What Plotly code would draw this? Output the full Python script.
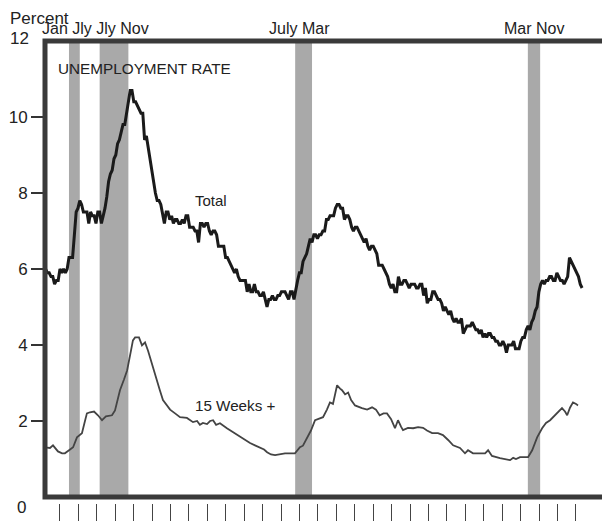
import plotly.graph_objects as go

# ---------------- data ----------------
# Civilian unemployment rate (percent), monthly, starting Dec 1978
total_start_year = 1978 + 11 / 12
total_rate = [
    6.0,
    5.9, 5.9, 5.8, 5.8, 5.6, 5.7, 5.7, 6.0, 5.9, 6.0, 5.9, 6.0,          # 1979
    6.3, 6.3, 6.3, 6.9, 7.5, 7.6, 7.8, 7.7, 7.5, 7.5, 7.5, 7.2,          # 1980
    7.5, 7.4, 7.4, 7.2, 7.5, 7.5, 7.2, 7.4, 7.6, 7.9, 8.3, 8.5,          # 1981
    8.6, 8.9, 9.0, 9.3, 9.4, 9.6, 9.8, 9.8, 10.1, 10.4, 10.7, 10.7,      # 1982
    10.4, 10.4, 10.3, 10.2, 10.1, 10.1, 9.4, 9.5, 9.2, 8.8, 8.5, 8.3,    # 1983
    8.0, 7.8, 7.8, 7.7, 7.4, 7.2, 7.5, 7.5, 7.3, 7.4, 7.2, 7.3,          # 1984
    7.3, 7.2, 7.2, 7.3, 7.2, 7.4, 7.4, 7.1, 7.1, 7.1, 7.0, 7.0,          # 1985
    6.7, 7.2, 7.2, 7.1, 7.2, 7.2, 7.0, 6.9, 7.0, 7.0, 6.9, 6.6,          # 1986
    6.6, 6.6, 6.6, 6.3, 6.3, 6.2, 6.1, 6.0, 5.9, 6.0, 5.8, 5.7,          # 1987
    5.7, 5.7, 5.7, 5.4, 5.6, 5.4, 5.4, 5.6, 5.4, 5.4, 5.3, 5.3,          # 1988
    5.4, 5.2, 5.0, 5.2, 5.2, 5.3, 5.2, 5.2, 5.3, 5.3, 5.4, 5.4,          # 1989
    5.4, 5.3, 5.2, 5.4, 5.4, 5.2, 5.5, 5.7, 5.9, 5.9, 6.2, 6.3,          # 1990
    6.4, 6.6, 6.8, 6.7, 6.9, 6.9, 6.8, 6.9, 6.9, 7.0, 7.0, 7.3,          # 1991
    7.3, 7.4, 7.4, 7.4, 7.6, 7.7, 7.7, 7.6, 7.6, 7.3, 7.4, 7.4,          # 1992
    7.3, 7.1, 7.0, 7.1, 7.1, 7.0, 6.9, 6.8, 6.7, 6.8, 6.6, 6.5,          # 1993
    6.6, 6.6, 6.5, 6.4, 6.1, 6.1, 6.1, 6.0, 5.9, 5.8, 5.6, 5.5,          # 1994
    5.6, 5.4, 5.4, 5.8, 5.6, 5.6, 5.7, 5.7, 5.6, 5.5, 5.6, 5.6,          # 1995
    5.6, 5.5, 5.5, 5.6, 5.6, 5.3, 5.5, 5.1, 5.2, 5.2, 5.4, 5.4,          # 1996
    5.3, 5.2, 5.2, 5.1, 4.9, 5.0, 4.9, 4.8, 4.9, 4.7, 4.6, 4.7,          # 1997
    4.6, 4.6, 4.7, 4.3, 4.4, 4.5, 4.5, 4.5, 4.6, 4.5, 4.4, 4.4,          # 1998
    4.3, 4.4, 4.2, 4.3, 4.2, 4.3, 4.3, 4.2, 4.2, 4.1, 4.1, 4.0,          # 1999
    4.0, 4.1, 4.0, 3.8, 4.0, 4.0, 4.0, 4.1, 3.9, 3.9, 3.9, 4.1,          # 2000
    4.2, 4.2, 4.4, 4.5, 4.4, 4.6, 4.7, 4.9, 5.0, 5.4, 5.6, 5.7,          # 2001
    5.6, 5.7, 5.7, 5.8, 5.8, 5.7, 5.7, 5.9, 5.8, 5.7, 5.7, 5.6,          # 2002
    5.7, 5.8, 6.3, 6.2, 6.1, 6.0, 5.9, 5.8, 5.6, 5.5,                    # 2003
]
total_year = [total_start_year + i / 12 for i in range(len(total_rate))]

# Unemployed 15 weeks and over, as percent of labor force
wk15_year = [
    1978.98, 1979.12, 1979.26, 1979.49, 1979.68, 1979.81, 1980.05, 1980.19,
    1980.37, 1980.60, 1980.74, 1980.83, 1980.97, 1981.16, 1981.34, 1981.53,
    1981.71, 1981.99, 1982.13, 1982.36, 1982.55, 1982.69, 1982.87, 1982.96,
    1983.06, 1983.24, 1983.38, 1983.52, 1983.66, 1983.75, 1983.94, 1984.07,
    1984.21, 1984.35, 1984.68, 1984.91, 1985.14, 1985.46, 1985.74, 1985.93,
    1986.06, 1986.20, 1986.39, 1986.53, 1986.67, 1986.81, 1986.99, 1987.31,
    1987.55, 1987.78, 1988.06, 1988.38, 1988.61, 1988.84, 1989.03, 1989.17,
    1989.35, 1989.54, 1990.00, 1990.46, 1990.69, 1990.83, 1991.02, 1991.20,
    1991.39, 1991.57, 1991.76, 1991.94, 1992.08, 1992.22, 1992.41, 1992.55,
    1992.64, 1992.78, 1992.92, 1993.06, 1993.24, 1993.56, 1993.80, 1994.03,
    1994.21, 1994.38, 1994.56, 1994.72, 1994.91, 1995.09, 1995.23, 1995.37,
    1995.46, 1995.69, 1995.93, 1996.16, 1996.39, 1996.57, 1996.81, 1997.08,
    1997.31, 1997.55, 1997.78, 1998.10, 1998.33, 1998.47, 1998.70, 1999.03,
    1999.26, 1999.40, 1999.58, 1999.95, 2000.23, 2000.42, 2000.56, 2000.69,
    2000.88, 2001.25, 2001.44, 2001.67, 2001.90, 2002.08, 2002.27, 2002.50,
    2002.69, 2002.82, 2002.96, 2003.06, 2003.19, 2003.33, 2003.47, 2003.56,
]
wk15_rate = [
    1.30, 1.29, 1.36, 1.20, 1.15, 1.15, 1.25, 1.31,
    1.57, 1.68, 2.00, 2.20, 2.23, 2.25, 2.15, 2.02,
    2.12, 2.15, 2.28, 2.81, 3.10, 3.33, 3.85, 4.12,
    4.20, 4.20, 3.99, 4.07, 3.85, 3.67, 3.30, 3.07,
    2.80, 2.55, 2.30, 2.20, 2.10, 2.08, 1.97, 2.00,
    1.90, 1.95, 1.92, 2.00, 2.02, 1.90, 1.94, 1.81,
    1.72, 1.63, 1.52, 1.42, 1.36, 1.31, 1.25, 1.18,
    1.12, 1.10, 1.15, 1.15, 1.31, 1.35, 1.55, 1.75,
    2.02, 2.05, 2.10, 2.30, 2.49, 2.45, 2.94, 2.85,
    2.81, 2.70, 2.75, 2.55, 2.41, 2.34, 2.30, 2.36,
    2.30, 2.15, 2.20, 2.20, 2.05, 1.81, 2.02, 1.85,
    1.76, 1.82, 1.81, 1.84, 1.82, 1.75, 1.68, 1.68,
    1.63, 1.50, 1.36, 1.29, 1.15, 1.23, 1.15, 1.15,
    1.15, 1.23, 1.08, 1.02, 1.00, 0.97, 1.03, 1.00,
    1.05, 1.05, 1.23, 1.57, 1.81, 1.95, 2.02, 2.15,
    2.25, 2.34, 2.25, 2.15, 2.35, 2.49, 2.45, 2.41,
]

# Recessions (start, end) in decimal years
rec_start = [1980.00, 1981.42, 1990.47, 2001.24]
rec_end = [1980.50, 1982.75, 1991.25, 2001.81]
rec_labels = ["Jan Jly Jly Nov", "July Mar", "Mar Nov"]

y_tickvals = [2, 4, 6, 8, 10]
y_ticktext = ["2", "4", "6", "8", "10"]
x_tickvals = [1979.58 + 0.853 * k for k in range(29)]

# ---------------- layout helpers ----------------
# the page body has an 8px margin, so the figure is drawn 8px in from the corner
OFF = 8
W, H = 610 - OFF, 523 - OFF
# plot area in window pixels: x 45..608, y 41..520
ML, MR, MT, MB = 45 - OFF, 2, 41 - OFF, 3
PW, PH = W - ML - MR, H - MT - MB
X0, X1 = 1978.89, 2004.95
FONT = "Liberation Sans, Arial, Helvetica, sans-serif"
INK = "#222222"


def px(xp):
    """window x pixel -> paper coordinate"""
    return (xp - OFF - ML) / PW


def py(yp):
    """window y pixel -> paper coordinate"""
    return (H - MB - (yp - OFF)) / PH


ydom0 = py(497)

fig = go.Figure()

fig.add_trace(go.Scatter(
    x=total_year, y=total_rate, mode="lines",
    line=dict(color="#1a1a1a", width=3), hoverinfo="skip", showlegend=False,
))
fig.add_trace(go.Scatter(
    x=wk15_year, y=wk15_rate, mode="lines",
    line=dict(color="#444444", width=1.8), hoverinfo="skip", showlegend=False,
))
# invisible trace so the detached tick axis is drawn
fig.add_trace(go.Scatter(
    x=x_tickvals, y=[0] * len(x_tickvals), xaxis="x2", yaxis="y", mode="markers",
    marker=dict(opacity=0), hoverinfo="skip", showlegend=False,
))

shapes = []
for s, e in zip(rec_start, rec_end):
    shapes.append(dict(
        type="rect", xref="x", yref="y domain", x0=s, x1=e, y0=0, y1=1,
        fillcolor="#a9a9a9", line=dict(width=0), layer="below",
    ))
shapes.append(dict(
    type="rect", xref="x domain", yref="y domain", x0=0, x1=1, y0=0, y1=1,
    line=dict(color="#3a3a3a", width=5), fillcolor="rgba(0,0,0,0)", layer="above",
))

annotations = [
    dict(text="Percent", x=px(9), y=py(19), xanchor="left", yanchor="middle",
         font=dict(size=17)),
    dict(text="12", x=px(30), y=py(38), xanchor="right", yanchor="middle",
         font=dict(size=17)),
    dict(text="0", x=px(27), y=py(507), xanchor="right", yanchor="middle",
         font=dict(size=17)),
    dict(text=rec_labels[0], x=px(41), y=py(29), xanchor="left", yanchor="middle",
         font=dict(size=16)),
    dict(text=rec_labels[1], x=px(268), y=py(29), xanchor="left", yanchor="middle",
         font=dict(size=16)),
    dict(text=rec_labels[2], x=px(503), y=py(29), xanchor="left", yanchor="middle",
         font=dict(size=16)),
    dict(text="UNEMPLOYMENT RATE", x=px(57), y=py(69), xanchor="left", yanchor="middle",
         font=dict(size=15.3)),
    dict(text="Total", x=px(194), y=py(200), xanchor="left", yanchor="middle",
         font=dict(size=15)),
    dict(text="15 Weeks +", x=px(194), y=py(405), xanchor="left", yanchor="middle",
         font=dict(size=15.2)),
]
for a in annotations:
    a.update(xref="paper", yref="paper", showarrow=False, borderpad=0)
    a["font"].update(family=FONT, color=INK)

fig.update_layout(
    width=W, height=H,
    margin=dict(l=ML, r=MR, t=MT, b=MB, pad=0, autoexpand=False),
    paper_bgcolor="white", plot_bgcolor="white",
    font=dict(family=FONT, color=INK),
    shapes=shapes, annotations=annotations,
    xaxis=dict(range=[X0, X1], showgrid=False, zeroline=False, showline=False,
               showticklabels=False, ticks="", anchor="y", automargin=False),
    xaxis2=dict(range=[X0, X1], overlaying="x", anchor="free", position=py(503),
                side="bottom", showgrid=False, zeroline=False, showline=False,
                showticklabels=False, tickmode="array", tickvals=x_tickvals,
                ticks="outside", ticklen=17, tickwidth=1.3, tickcolor="#444444",
                automargin=False),
    yaxis=dict(range=[0, 12], domain=[ydom0, 1], showgrid=False, zeroline=False,
               showline=False, tickmode="array", tickvals=y_tickvals,
               ticktext=y_ticktext, ticks="outside", ticklen=13, tickwidth=2,
               tickcolor="#333333", automargin=False,
               tickfont=dict(size=17, family=FONT, color=INK)),
)

fig.write_html("out.html")
